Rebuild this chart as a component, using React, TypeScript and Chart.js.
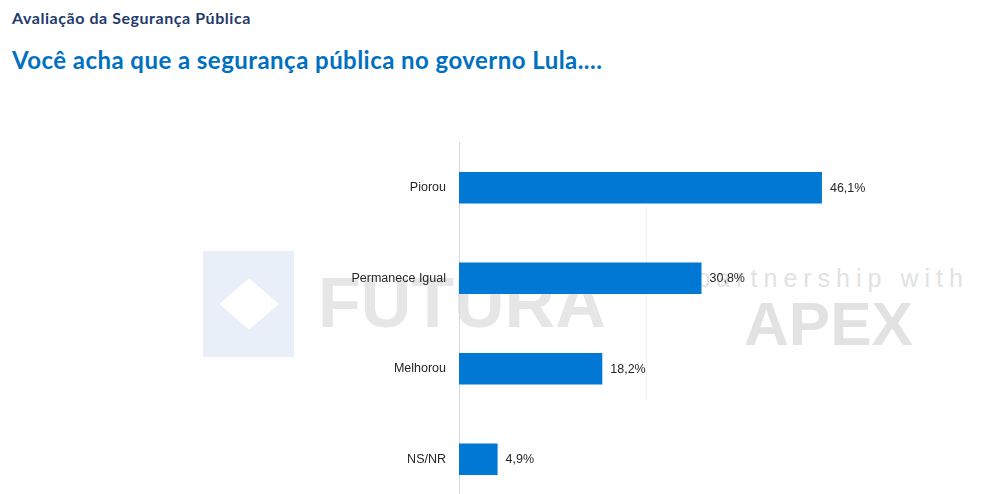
import React, { useEffect, useRef } from "react";
import { Chart, registerables } from "chart.js";

Chart.register(...registerables);

const categories = ["Piorou", "Permanece Igual", "Melhorou", "NS/NR"];
const values = [46.1, 30.8, 18.2, 4.9];
const subtitle = "Avaliação da Segurança Pública";
const title = "Você acha que a segurança pública no governo Lula....";

const BAR_COLOR = "#0078D4";
const LABEL_FONT = "'Liberation Sans', Arial, sans-serif";

const valueLabels = {
  id: "valueLabels",
  afterDatasetsDraw(chart: any) {
    const ctx = chart.ctx;
    const meta = chart.getDatasetMeta(0);
    ctx.save();
    ctx.font = `12.5px ${LABEL_FONT}`;
    ctx.fillStyle = "#262626";
    ctx.textAlign = "left";
    ctx.textBaseline = "middle";
    meta.data.forEach((bar: any, i: number) => {
      const v = chart.data.datasets[0].data[i] as number;
      const txt = v.toFixed(1).replace(".", ",") + "%";
      ctx.fillText(txt, bar.x + 8, bar.y + 0.5);
    });
    ctx.restore();
  },
};

export default function App() {
  const canvasRef = useRef<HTMLCanvasElement | null>(null);

  useEffect(() => {
    if (!canvasRef.current) return;
    const chart = new Chart(canvasRef.current, {
      type: "bar",
      data: {
        labels: categories,
        datasets: [
          {
            data: values,
            backgroundColor: BAR_COLOR,
            borderWidth: 0,
            categoryPercentage: 1,
            barPercentage: 0.35,
          },
        ],
      },
      options: {
        indexAxis: "y",
        animation: false,
        responsive: false,
        layout: { padding: { left: 0, right: 58.6, top: 0, bottom: 0 } },
        plugins: {
          legend: { display: false },
          tooltip: { enabled: false },
          title: { display: false },
        },
        scales: {
          x: {
            display: false,
            min: 0,
            max: 60,
          },
          y: {
            afterFit: (scale: any) => {
              scale.width = 459;
            },
            grid: { display: false, drawTicks: false },
            border: { display: true, color: "#d9d9d9", width: 1 },
            ticks: {
              padding: 13,
              color: "#262626",
              font: { family: LABEL_FONT, size: 12.5 },
            },
          },
        },
      },
      plugins: [valueLabels],
    });
    return () => chart.destroy();
  }, []);

  return (
    <div
      style={{
        position: "absolute",
        left: 0,
        top: 0,
        width: 990,
        height: 494,
        overflow: "hidden",
        background: "#ffffff",
      }}
    >
      {/* watermark: FUTURA */}
      <div
        style={{
          position: "absolute",
          left: 203,
          top: 251,
          width: 91,
          height: 106,
          background: "#e9eff8",
        }}
      />
      <div
        style={{
          position: "absolute",
          left: 249 - 21,
          top: 304 - 21,
          width: 42,
          height: 42,
          background: "#ffffff",
          transform: "scale(1, 0.87) rotate(45deg)",
        }}
      />
      <div
        style={{
          position: "absolute",
          left: 318,
          top: 268,
          fontFamily: LABEL_FONT,
          fontWeight: 700,
          fontSize: 70,
          lineHeight: "70px",
          color: "#e6e6e6",
          whiteSpace: "nowrap",
        }}
      >
        FUTURA
      </div>
      {/* watermark: APEX */}
      <div
        style={{
          position: "absolute",
          left: 646,
          top: 207,
          width: 1,
          height: 193,
          background: "#f0f0f0",
        }}
      />
      <div
        style={{
          position: "absolute",
          left: 652,
          top: 264,
          fontFamily: LABEL_FONT,
          fontSize: 25,
          lineHeight: "28px",
          letterSpacing: 6,
          color: "#e2e2e2",
          whiteSpace: "nowrap",
        }}
      >
        in partnership with
      </div>
      <div
        style={{
          position: "absolute",
          left: 744,
          top: 292,
          fontFamily: LABEL_FONT,
          fontWeight: 700,
          fontSize: 62,
          lineHeight: "64px",
          color: "#e2e2e2",
          whiteSpace: "nowrap",
        }}
      >
        APEX
      </div>

      {/* titles */}
      <div
        style={{
          position: "absolute",
          left: 12,
          top: 10,
          fontFamily: "Lato, 'Noto Sans', sans-serif",
          fontWeight: 700,
          fontSize: 16,
          lineHeight: "16px",
          letterSpacing: 0.55,
          color: "#1f3a6e",
          whiteSpace: "nowrap",
        }}
      >
        {subtitle}
      </div>
      <div
        style={{
          position: "absolute",
          left: 12,
          top: 47.5,
          fontFamily: "Lato, 'Noto Sans', sans-serif",
          fontWeight: 700,
          fontSize: 24,
          lineHeight: "24px",
          letterSpacing: 0.45,
          color: "#0070C0",
          whiteSpace: "nowrap",
        }}
      >
        {title}
      </div>

      <canvas
        ref={canvasRef}
        width={990}
        height={403}
        style={{ position: "absolute", left: 0, top: 121.5, width: 990, height: 403 }}
      />
    </div>
  );
}
